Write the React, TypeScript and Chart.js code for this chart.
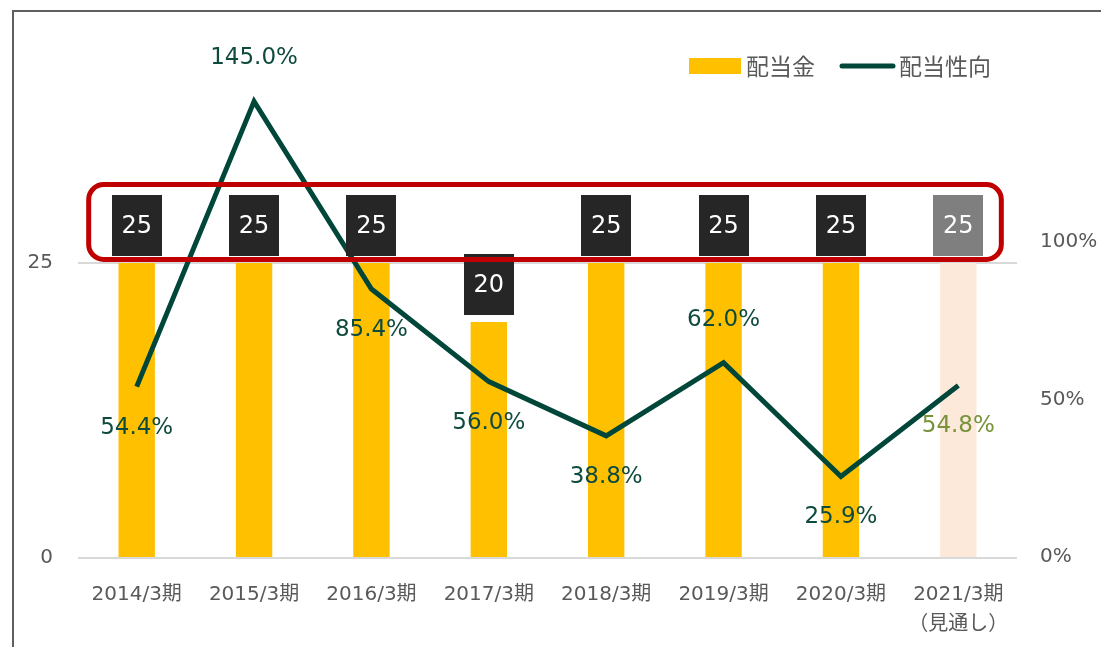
import React, { useEffect, useRef } from "react";
import { Chart, registerables } from "chart.js";

Chart.register(...registerables);

// ---- data ----
const categories: (string | string[])[] = [
  "2014/3期",
  "2015/3期",
  "2016/3期",
  "2017/3期",
  "2018/3期",
  "2019/3期",
  "2020/3期",
  ["2021/3期", "（見通し）"],
];
const dividends = [25, 25, 25, 20, 25, 25, 25, 25];
const payoutRatio = [54.4, 145.0, 85.4, 56.0, 38.8, 62.0, 25.9, 54.8];
const leftTicks = [0, 25];
const rightTicks = [0, 50, 100];
const seriesNames = ["配当金", "配当性向"];
const forecastIndex = 7;
const payoutLabelAbove = [false, true, false, false, false, true, false, false];

const FONT = '"DejaVu Sans", "Noto Sans CJK JP", sans-serif';
const CJK_FONT = '"Noto Sans CJK JP", sans-serif';
const LINE_COLOR = "#00473A";
const BAR_COLOR = "#FFC000";
const BAR_FORECAST = "#FCE9DA";
const TEXT_GRAY = "#595959";

const overlayPlugin = {
  id: "overlay",
  afterDatasetsDraw(chart: any) {
    const ctx = chart.ctx as CanvasRenderingContext2D;
    const barMeta = chart.getDatasetMeta(0);
    const lineMeta = chart.getDatasetMeta(1);
    ctx.save();
    // dividend value boxes
    barMeta.data.forEach((bar: any, i: number) => {
      const w = 50;
      const h = 61;
      const top = Math.round(bar.y - 7 - h);
      const left = Math.round(bar.x - w / 2);
      ctx.fillStyle = i === forecastIndex ? "#7F7F7F" : "#262626";
      ctx.fillRect(left, top, w, h);
      ctx.fillStyle = "#FFFFFF";
      ctx.font = `24px ${FONT}`;
      ctx.textAlign = "center";
      ctx.textBaseline = "middle";
      ctx.fillText(String(dividends[i]), bar.x, top + h / 2 + 1);
    });
    // payout ratio labels
    lineMeta.data.forEach((pt: any, i: number) => {
      ctx.fillStyle = i === forecastIndex ? "#77933C" : "#0E4B3E";
      ctx.font = `23px ${FONT}`;
      ctx.textAlign = "center";
      ctx.textBaseline = "middle";
      const y = payoutLabelAbove[i] ? pt.y - 43 : pt.y + 41;
      ctx.fillText(payoutRatio[i].toFixed(1) + "%", pt.x, y);
    });
    // red highlight frame
    const xs = chart.scales.x;
    const yl = chart.scales.y;
    const left = xs.getPixelForValue(0) - 48;
    const right = xs.getPixelForValue(categories.length - 1) + 43;
    const bottom = yl.getPixelForValue(25) - 3.5;
    const top = bottom - 75;
    ctx.strokeStyle = "#C00000";
    ctx.lineWidth = 5;
    ctx.beginPath();
    (ctx as any).roundRect(left, top, right - left, bottom - top, 15);
    ctx.stroke();
    ctx.restore();
  },
  afterDraw(chart: any) {
    const ctx = chart.ctx as CanvasRenderingContext2D;
    ctx.save();
    const cy = 66;
    ctx.fillStyle = BAR_COLOR;
    ctx.fillRect(689, 58, 52, 16);
    ctx.fillStyle = TEXT_GRAY;
    ctx.font = `23px ${CJK_FONT}`;
    ctx.textAlign = "left";
    ctx.textBaseline = "middle";
    ctx.fillText(chart.data.datasets[0].label, 746, cy);
    ctx.strokeStyle = LINE_COLOR;
    ctx.lineWidth = 5;
    ctx.lineCap = "round";
    ctx.beginPath();
    ctx.moveTo(842, cy);
    ctx.lineTo(893, cy);
    ctx.stroke();
    ctx.fillText(chart.data.datasets[1].label, 899, cy);
    ctx.restore();
  },
};

export default function App() {
  const canvasRef = useRef<HTMLCanvasElement | null>(null);

  useEffect(() => {
    const canvas = canvasRef.current;
    if (!canvas) return;
    const tickFont = { family: FONT, size: 20, lineHeight: 1.5 };
    const chart = new Chart(canvas, {
      type: "bar",
      data: {
        labels: categories as any,
        datasets: [
          {
            type: "bar",
            label: seriesNames[0],
            data: dividends,
            backgroundColor: dividends.map((_, i) =>
              i === forecastIndex ? BAR_FORECAST : BAR_COLOR
            ),
            yAxisID: "y",
            barPercentage: 0.31,
            categoryPercentage: 1,
            order: 2,
          },
          {
            type: "line",
            label: seriesNames[1],
            data: payoutRatio,
            borderColor: LINE_COLOR,
            backgroundColor: LINE_COLOR,
            borderWidth: 5,
            pointRadius: 0,
            tension: 0,
            yAxisID: "y1",
            order: 1,
            clip: false as any,
            borderJoinStyle: "miter",
          } as any,
        ],
      },
      options: {
        responsive: false,
        animation: false,
        devicePixelRatio: 1,
        layout: { padding: { top: 27, left: 0, right: 0, bottom: 0 } },
        plugins: {
          legend: { display: false },
          tooltip: { enabled: false },
        },
        scales: {
          x: {
            grid: { display: false },
            border: { display: false },
            ticks: {
              color: TEXT_GRAY,
              font: tickFont,
              padding: 14,
              maxRotation: 0,
              autoSkip: false,
            },
            afterFit(s: any) {
              s.height = 89;
              s.paddingLeft = 0;
              s.paddingRight = 0;
            },
          },
          y: {
            position: "left",
            min: 0,
            max: 45,
            afterBuildTicks(s: any) {
              s.ticks = leftTicks.map((v) => ({ value: v }));
            },
            grid: { color: "#D9D9D9", lineWidth: 2, drawTicks: false },
            border: { display: false },
            ticks: {
              color: TEXT_GRAY,
              font: tickFont,
              padding: 25,
              labelOffset: 0,
            },
            afterFit(s: any) {
              s.width = 78;
              s.paddingTop = 0;
              s.paddingBottom = 0;
            },
          },
          y1: {
            position: "right",
            min: 0,
            max: 168.6,
            afterBuildTicks(s: any) {
              s.ticks = rightTicks.map((v) => ({ value: v }));
            },
            grid: { display: false, drawTicks: false },
            border: { display: false },
            ticks: {
              color: TEXT_GRAY,
              font: tickFont,
              padding: 23,
              labelOffset: -1,
              callback: (v: any) => v + "%",
            },
            afterFit(s: any) {
              s.width = 84;
              s.paddingTop = 0;
              s.paddingBottom = 0;
            },
          },
        },
      } as any,
      plugins: [overlayPlugin],
    });
    return () => chart.destroy();
  }, []);

  return (
    <div
      style={{
        position: "fixed",
        inset: 0,
        overflow: "hidden",
        background: "#FFFFFF",
      }}
    >
      <div
        style={{
          position: "absolute",
          left: 12,
          top: 10,
          width: 2000,
          height: 2000,
          borderLeft: "2px solid #5F5F5F",
          borderTop: "2px solid #5F5F5F",
        }}
      />
      <canvas
        ref={canvasRef}
        width={1101}
        height={647}
        style={{ position: "absolute", left: 0, top: 0 }}
      />
    </div>
  );
}
